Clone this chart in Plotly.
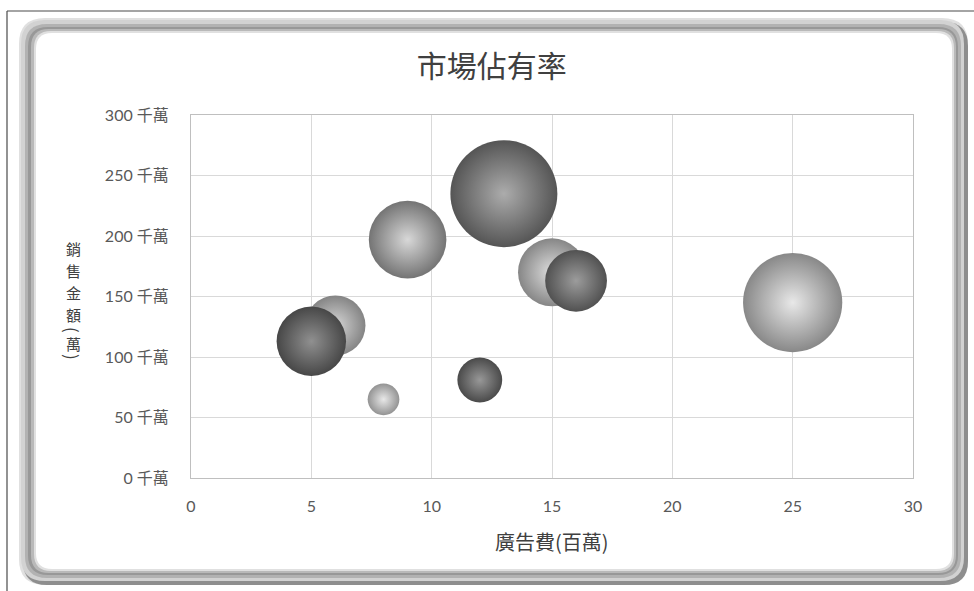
import plotly.graph_objects as go

# ---- data ----
ad_cost = [6, 5, 8, 9, 12, 13, 15, 16, 25]            # 廣告費(百萬)
sales = [126, 113, 65, 197, 81, 235, 170, 163, 145]    # 銷售金額(千萬)
share = [9.0, 12.0, 2.5, 15.0, 5.0, 28.5, 11.5, 9.5, 24.5]  # 市場佔有率 (bubble size)
edge_colors = ["#848484", "#474747", "#939393", "#747474", "#4a4a4a",
               "#555555", "#868686", "#515151", "#888888"]
center_colors = ["#d6d6d6", "#909090", "#e8e8e8", "#d8d8d8", "#989898",
                 "#acacac", "#dedede", "#9c9c9c", "#e8e8e8"]
y_ticks = [0, 50, 100, 150, 200, 250, 300]
x_ticks = [0, 5, 10, 15, 20, 25, 30]
y_title_chars = ["銷", "售", "金", "額", "(", "萬", ")"]

# ---- geometry (pixels) ----
W, H = 974, 591
L, R, T, B = 191, 913, 115, 478


def px(x):
    return (x - L) / (R - L)


def py(y):
    return (B - y) / (B - T)


def rrect(x0, y0, x1, y1, r):
    pts = [
        ("M", [(x0 + r, y0)]), ("L", [(x1 - r, y0)]), ("Q", [(x1, y0), (x1, y0 + r)]),
        ("L", [(x1, y1 - r)]), ("Q", [(x1, y1), (x1 - r, y1)]),
        ("L", [(x0 + r, y1)]), ("Q", [(x0, y1), (x0, y1 - r)]),
        ("L", [(x0, y0 + r)]), ("Q", [(x0, y0), (x0 + r, y0)]),
    ]
    s = ""
    for cmd, ps in pts:
        s += cmd + " " + " ".join(f"{px(a):.5f},{py(b):.5f}" for a, b in ps) + " "
    return s + "Z"


fig = go.Figure()
fig.add_trace(go.Scatter(
    x=ad_cost, y=sales, mode="markers",
    marker=dict(
        size=share, sizemode="area", sizeref=2 * max(share) / (107 ** 2),
        color=edge_colors, opacity=1,
        gradient=dict(type="radial", color=center_colors),
        line=dict(width=0),
    ),
    hoverinfo="x+y",
    showlegend=False,
))

shapes = []
# thin outer border lines
shapes.append(dict(type="line", xref="paper", yref="paper", x0=px(7), y0=py(11), x1=px(974), y1=py(11),
                   line=dict(color="#4a4a4a", width=1.2), layer="below"))
shapes.append(dict(type="line", xref="paper", yref="paper", x0=px(7), y0=py(11), x1=px(7), y1=py(591),
                   line=dict(color="#4a4a4a", width=1.2), layer="below"))
# card rim layers (bevelled frame)
for (x0, y0, x1, y1, r, col) in [
    (19, 18, 968, 585, 26, "#e0e0e0"),
    (23, 22, 968, 585, 24, "#8e8e8e"),
    (21, 20, 964, 581, 24, "#d2d2d2"),
    (25, 24, 961, 578, 22, "#b2b2b2"),
    (28, 27, 958, 575, 20, "#989898"),
    (31, 29, 956, 573, 18, "#b9b9b9"),
    (34, 31, 954, 571, 17, "#e0e0e0"),
    (36, 33, 952, 569, 16, "#ffffff"),
]:
    shapes.append(dict(type="path", xref="paper", yref="paper", path=rrect(x0, y0, x1, y1, r),
                       fillcolor=col, line=dict(width=0), layer="below"))

annotations = [
    dict(text="廣告費(百萬)", xref="paper", yref="paper", x=0.5, y=py(541),
         xanchor="center", yanchor="middle", showarrow=False,
         font=dict(family="Noto Sans CJK TC", size=20, color="#404040")),
]
# vertical y-axis title, one glyph per line (brackets turned for vertical writing)
y_title_pos = [248, 270, 292, 314, 330, 343, 357]
for ch, yy in zip(y_title_chars, y_title_pos):
    is_bracket = ch in "()"
    annotations.append(dict(
        text=ch, xref="paper", yref="paper", x=px(73), y=py(yy),
        xanchor="center", yanchor="middle", showarrow=False,
        textangle=90 if is_bracket else 0,
        font=dict(family="Noto Sans CJK TC", size=17 if is_bracket else 15, color="#404040"),
    ))

fig.update_layout(
    width=W, height=H, autosize=False,
    margin=dict(l=L, r=W - R, t=T, b=H - B),
    paper_bgcolor="white", plot_bgcolor="white",
    shapes=shapes,
    title=dict(text="市場佔有率", x=0.505, xref="container", xanchor="center",
               y=1 - 66 / H, yref="container", yanchor="middle",
               font=dict(family="Noto Sans CJK TC", size=30, color="#404040")),
    annotations=annotations,
    xaxis=dict(range=[0, 30], tickvals=x_ticks, ticktext=[str(v) for v in x_ticks],
               showgrid=True, gridcolor="#d9d9d9", gridwidth=1, zeroline=False,
               showline=True, linecolor="#bfbfbf", mirror=True, ticks="",
               ticklabelstandoff=14,
               tickfont=dict(family="Lato, Noto Sans CJK TC", size=16, color="#595959")),
    yaxis=dict(range=[0, 300], tickvals=y_ticks, ticktext=[f"{v} 千萬" for v in y_ticks],
               showgrid=True, gridcolor="#d9d9d9", gridwidth=1, zeroline=False,
               showline=True, linecolor="#bfbfbf", mirror=True, ticks="",
               ticklabelstandoff=18,
               tickfont=dict(family="Lato, Noto Sans CJK TC", size=16, color="#595959")),
)

fig.write_html("out.html")
